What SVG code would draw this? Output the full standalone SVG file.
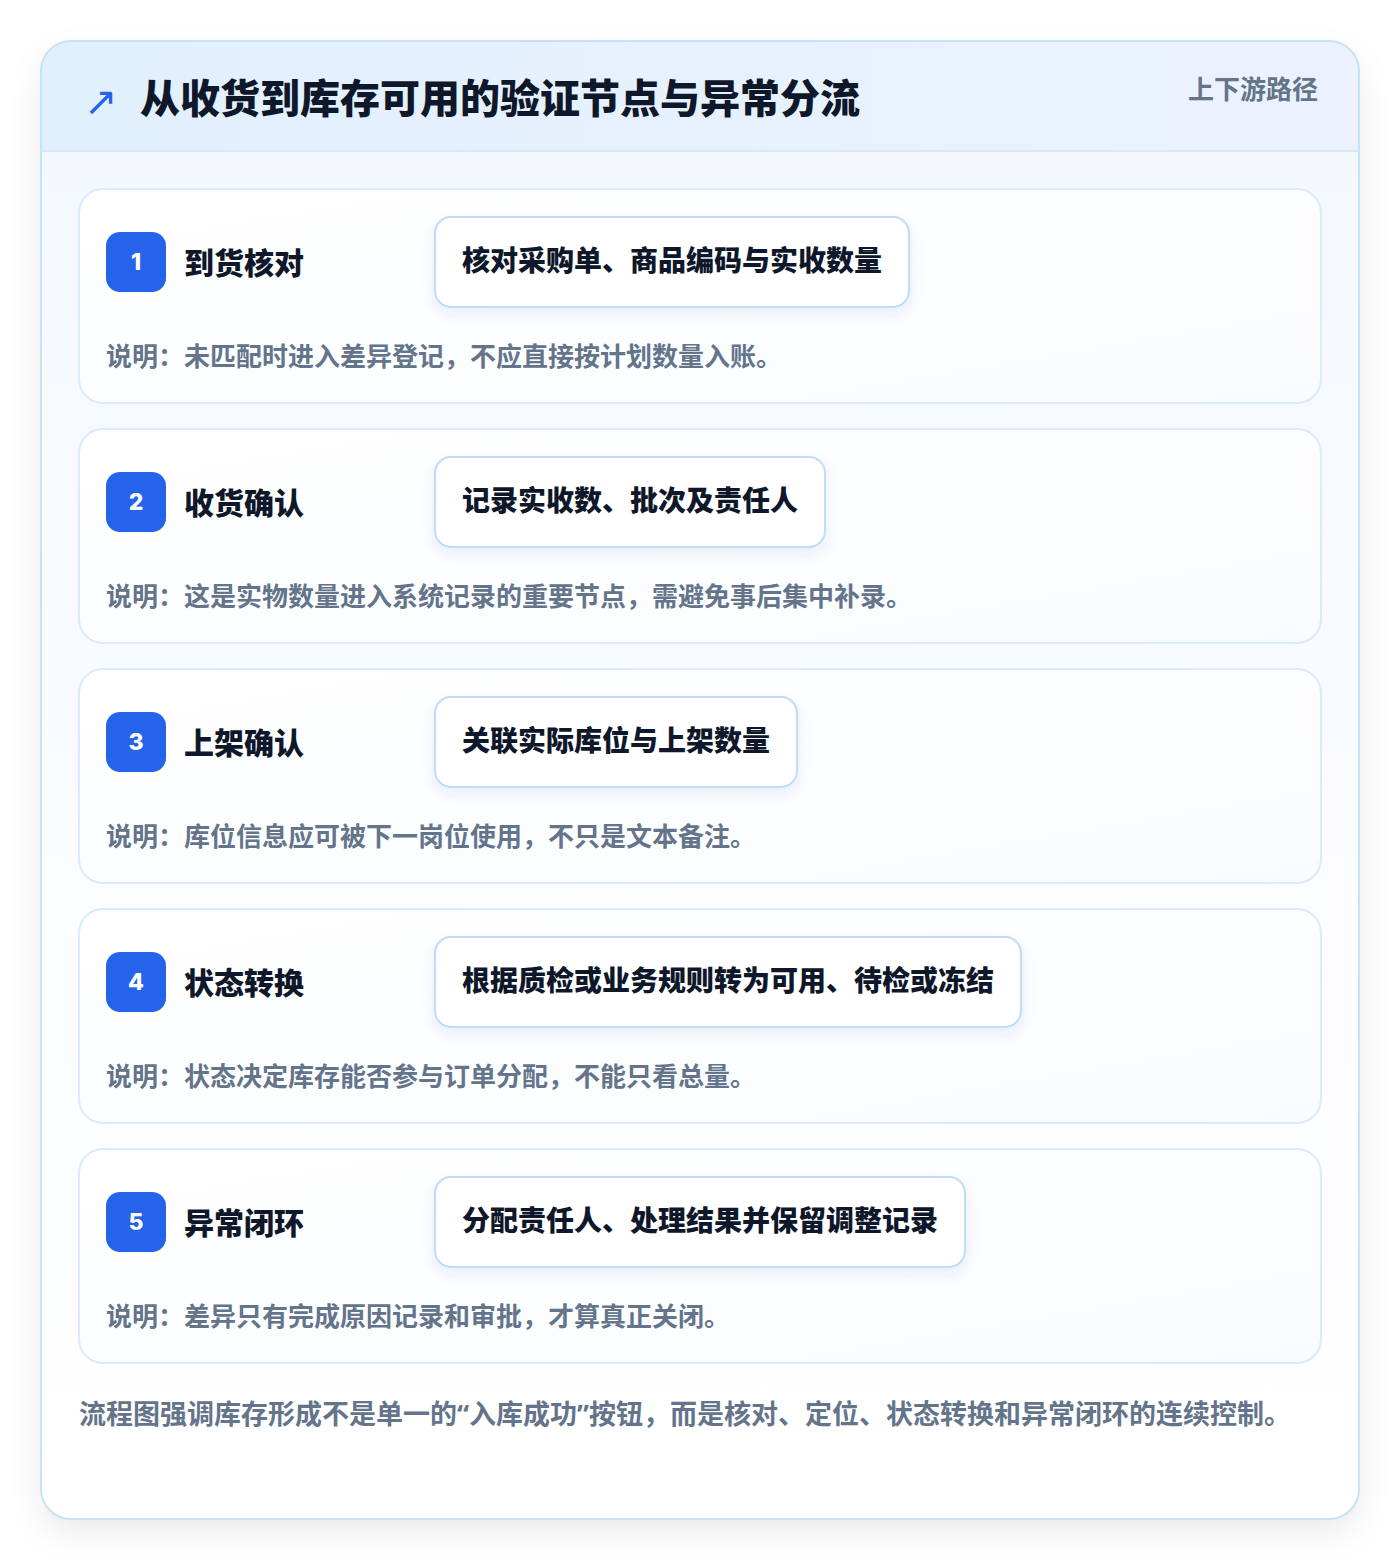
<svg xmlns="http://www.w3.org/2000/svg" width="1400" height="1560" viewBox="0 0 1400 1560">
<defs>
<linearGradient id="hdr" x1="0" y1="0" x2="1" y2="0">
<stop offset="0" stop-color="#e1f0fd"/>
<stop offset="1" stop-color="#ecf2fd"/>
</linearGradient>
<linearGradient id="body" x1="0" y1="0" x2="0" y2="1">
<stop offset="0" stop-color="#f2f8ff"/>
<stop offset="0.6" stop-color="#fbfdff"/>
<stop offset="1" stop-color="#ffffff"/>
</linearGradient>
<linearGradient id="cardg" x1="0" y1="0" x2="1" y2="1">
<stop offset="0" stop-color="#ffffff"/>
<stop offset="1" stop-color="#f9fcff"/>
</linearGradient>
<filter id="outerShadow" x="-10%" y="-10%" width="120%" height="120%">
<feDropShadow dx="0" dy="14" stdDeviation="16" flood-color="#0f172a" flood-opacity="0.08"/>
</filter>
<filter id="boxShadow" x="-10%" y="-20%" width="120%" height="160%">
<feDropShadow dx="0" dy="6" stdDeviation="7" flood-color="#1e3a8a" flood-opacity="0.08"/>
</filter>
<clipPath id="outerClip"><rect x="41" y="41" width="1318" height="1478" rx="30"/></clipPath>
</defs>
<style>
text{font-family:"Noto Sans CJK SC","Noto Sans",sans-serif;font-weight:700}
.title{font-size:40px;fill:#0f172a;font-weight:900}
.tag{font-size:26px;fill:#64748b}
.card{fill:url(#cardg);stroke:#dbeafe;stroke-width:2}
.badge{fill:#2563eb}
.num{font-size:23px;fill:#ffffff;font-family:"Inter","Noto Sans",sans-serif;font-weight:800}
.stitle{font-size:30px;fill:#0f172a;font-weight:900}
.box{fill:#ffffff;stroke:#bfdbfe;stroke-width:2}
.btext{font-size:28px;fill:#0f172a;font-weight:900}
.desc{font-size:26px;fill:#64748b}
.foot{font-size:27px;fill:#64748b}
.q{font-family:"Noto Sans","DejaVu Sans",sans-serif}
</style>
<rect width="1400" height="1560" fill="#ffffff"/>
<g id="frame">
<rect x="41" y="41" width="1318" height="1478" rx="30" fill="url(#body)" filter="url(#outerShadow)"/>
<g clip-path="url(#outerClip)">
<rect x="41" y="41" width="1318" height="110" fill="url(#hdr)"/>
<line x1="41" y1="151" x2="1359" y2="151" stroke="#d6e8fb" stroke-width="2"/>
</g>
<rect x="41" y="41" width="1318" height="1478" rx="30" fill="none" stroke="#c7e3f8" stroke-width="2"/>
</g>
<g id="header">
<text x="84" y="115" font-size="40" fill="#2563eb" style="font-family:'DejaVu Sans',sans-serif;font-weight:400">↗</text>
<text class="title" x="140" y="113">从收货到库存可用的验证节点与异常分流</text>
<text class="tag" x="1318" y="99" text-anchor="end">上下游路径</text>
</g>
<g id="step1">
<rect class="card" x="79" y="189" width="1242" height="214" rx="24"/>
<rect class="badge" x="106" y="232" width="60" height="60" rx="14"/>
<text class="num" x="136" y="270" text-anchor="middle">1</text>
<text class="stitle" x="184" y="274">到货核对</text>
<rect class="box" x="435" y="217" width="474" height="90" rx="16" filter="url(#boxShadow)"/>
<text class="btext" x="462" y="271">核对采购单、商品编码与实收数量</text>
<text class="desc" x="106" y="366">说明：未匹配时进入差异登记，不应直接按计划数量入账。</text>
</g>
<g id="step2">
<rect class="card" x="79" y="429" width="1242" height="214" rx="24"/>
<rect class="badge" x="106" y="472" width="60" height="60" rx="14"/>
<text class="num" x="136" y="510" text-anchor="middle">2</text>
<text class="stitle" x="184" y="514">收货确认</text>
<rect class="box" x="435" y="457" width="390" height="90" rx="16" filter="url(#boxShadow)"/>
<text class="btext" x="462" y="511">记录实收数、批次及责任人</text>
<text class="desc" x="106" y="606">说明：这是实物数量进入系统记录的重要节点，需避免事后集中补录。</text>
</g>
<g id="step3">
<rect class="card" x="79" y="669" width="1242" height="214" rx="24"/>
<rect class="badge" x="106" y="712" width="60" height="60" rx="14"/>
<text class="num" x="136" y="750" text-anchor="middle">3</text>
<text class="stitle" x="184" y="754">上架确认</text>
<rect class="box" x="435" y="697" width="362" height="90" rx="16" filter="url(#boxShadow)"/>
<text class="btext" x="462" y="751">关联实际库位与上架数量</text>
<text class="desc" x="106" y="846">说明：库位信息应可被下一岗位使用，不只是文本备注。</text>
</g>
<g id="step4">
<rect class="card" x="79" y="909" width="1242" height="214" rx="24"/>
<rect class="badge" x="106" y="952" width="60" height="60" rx="14"/>
<text class="num" x="136" y="990" text-anchor="middle">4</text>
<text class="stitle" x="184" y="994">状态转换</text>
<rect class="box" x="435" y="937" width="586" height="90" rx="16" filter="url(#boxShadow)"/>
<text class="btext" x="462" y="991">根据质检或业务规则转为可用、待检或冻结</text>
<text class="desc" x="106" y="1086">说明：状态决定库存能否参与订单分配，不能只看总量。</text>
</g>
<g id="step5">
<rect class="card" x="79" y="1149" width="1242" height="214" rx="24"/>
<rect class="badge" x="106" y="1192" width="60" height="60" rx="14"/>
<text class="num" x="136" y="1230" text-anchor="middle">5</text>
<text class="stitle" x="184" y="1234">异常闭环</text>
<rect class="box" x="435" y="1177" width="530" height="90" rx="16" filter="url(#boxShadow)"/>
<text class="btext" x="462" y="1231">分配责任人、处理结果并保留调整记录</text>
<text class="desc" x="106" y="1326">说明：差异只有完成原因记录和审批，才算真正关闭。</text>
</g>
<g id="connectors"></g>
<g id="footer">
<text class="foot" x="79" y="1424">流程图强调库存形成不是单一的<tspan class="q">“</tspan>入库成功<tspan class="q">”</tspan>按钮，而是核对、定位、状态转换和异常闭环的连续控制。</text>
</g>
</svg>
